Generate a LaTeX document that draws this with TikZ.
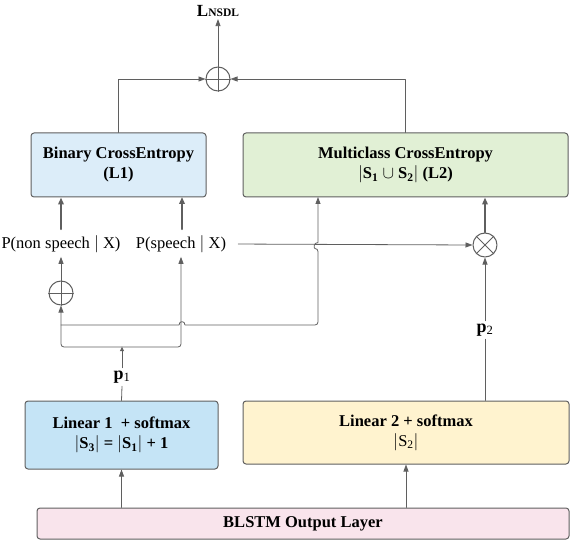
\documentclass[tikz,border=0pt]{standalone}
\usepackage{fontspec}
\setmainfont{Liberation Serif}
\usetikzlibrary{arrows.meta}
\definecolor{lncol}{HTML}{5F5F5F}
\definecolor{bcefill}{HTML}{DCEDF9}
\definecolor{mcefill}{HTML}{E1F0D5}
\definecolor{linafill}{HTML}{C5E4F6}
\definecolor{linbfill}{HTML}{FFF3CF}
\definecolor{blstmfill}{HTML}{F9E4EC}

\begin{document}
\begin{tikzpicture}[line cap=round,line join=round,x=1pt,y=-1pt,
	box/.style={draw=lncol,line width=1pt,rounded corners=3pt,inner sep=0pt,align=center,font=\fontsize{16.5}{20}\selectfont\bfseries},
	conn/.style={draw=lncol,line width=0.8pt,-{Triangle[length=7pt,width=5pt]}},
	thickconn/.style={draw=lncol,line width=1.8pt,-{Triangle[length=7pt,width=5.5pt]}},
	plain/.style={draw=lncol,line width=0.8pt},
	opcirc/.style={circle,draw=lncol,line width=1pt,minimum size=24pt,inner sep=0pt},
	lbl/.style={font=\fontsize{16.5}{16.5}\selectfont,inner sep=4pt}]
	\useasboundingbox (0,0) rectangle (570,540);
	%% boxes
	\node[box,fill=bcefill,minimum width=175pt,minimum height=64pt] (bce) at (118.5,165) {Binary CrossEntropy\\(L1)};
	\node[box,fill=mcefill,minimum width=325pt,minimum height=64pt] (mce) at (405.5,165) {Multiclass CrossEntropy\\$|$S\textsubscript{1} $\cup$ S\textsubscript{2}$|$ (L2)};
	\node[box,fill=linafill,minimum width=193pt,minimum height=68pt] (lina) at (121.5,435) {Linear 1\ \ + softmax\\$|$S\textsubscript{3}$|$ = $|$S\textsubscript{1}$|$ + 1};
	\node[box,fill=linbfill,minimum width=326pt,minimum height=63pt] (linb) at (406,432.5) {Linear 2 + softmax\\{\mdseries $|$S\textsubscript{2}$|$}};
	\node[box,fill=blstmfill,minimum width=532pt,minimum height=31pt] (blstm) at (303,523.5) {BLSTM Output Layer};
	%% operators
	\node[opcirc] (sumtop) at (218,79) {};
	\node[opcirc] (sumleft) at (61,293) {};
	\node[opcirc] (prod) at (485,245) {};
	\draw[plain] (sumtop.north) -- (sumtop.south) (sumtop.west) -- (sumtop.east);
	\draw[plain] (sumleft.north) -- (sumleft.south) (sumleft.west) -- (sumleft.east);
	\draw[plain] (prod.north west) -- (prod.south east) (prod.north east) -- (prod.south west);
	%% labels
	\node[inner sep=2pt] (loss) at (218,11) {\fontsize{17}{17}\selectfont\bfseries L\raisebox{-0.5pt}{\fontsize{11.5}{11.5}\selectfont NSDL}};
	\node[lbl] (pns) at (61,244) {P(non speech $|$ X)};
	\node[lbl] (ps) at (181,244) {P(speech $|$ X)};
	\node[inner sep=3pt] (pa) at (122,377) {\fontsize{18}{18}\selectfont\textbf{p}\textsubscript{1}};
	\node[inner sep=3pt] (pb) at (485,330) {\fontsize{18}{18}\selectfont\textbf{p}\textsubscript{2}};
	\coordinate (split) at (122,347);
	\coordinate (tap) at (61,325);
	%% loss sum
	\draw[conn] (bce.north) |- (sumtop.west);
	\draw[conn] (mce.north) |- (sumtop.east);
	\draw[conn] (sumtop.north) -- (loss.south);
	%% p1 branch
	\draw[plain] (lina.north) -- (pa.south);
	\draw[conn,-{Triangle[length=4pt,width=4pt]}] (pa.north) -- (split);
	\draw[conn,rounded corners=3pt] (split) -| (sumleft.south);
	\draw[conn,rounded corners=3pt] (split) -| (ps.south);
	\draw[conn] (sumleft.north) -- (pns.south);
	\draw[thickconn,shorten <=2pt] (pns.north) -- (pns.north |- bce.south);
	\draw[thickconn,shorten <=2pt] (182,0 |- ps.north) -- (182,197);
	\draw[conn] (tap) -- (179,325) .. controls (179,320.5) and (185,320.5) .. (185,325) [rounded corners=3pt] -- (318,325) -- (318,248.5)
		[sharp corners] .. controls (313.5,248.5) and (313.5,242.5) .. (318,242.5) -- (318,197);
	%% p2 branch
	\draw[conn,shorten <=8pt] (ps.east) -- (prod.west);
	\draw[plain] (pb.south |- linb.north) -- (pb.south);
	\draw[conn] (pb.north) -- (prod.south);
	\draw[thickconn] (prod.north) -- (prod.north |- mce.south);
	%% from BLSTM
	\draw[conn] (lina.south |- blstm.north) -- (lina.south);
	\draw[conn] (linb.south |- blstm.north) -- (linb.south);
\end{tikzpicture}
\end{document}
